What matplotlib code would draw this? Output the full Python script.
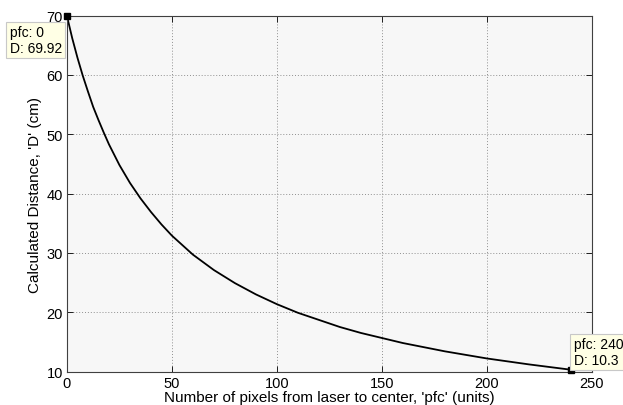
import numpy as np
import matplotlib
matplotlib.use('Agg')
import matplotlib.pyplot as plt

# values
pfc = [0, 2.5, 5, 7.5, 10, 12.5, 15, 17.5, 20, 25, 30, 35, 40, 45, 50, 55,
       60, 70, 80, 90, 100, 110, 120, 130, 140, 150, 160, 170, 180, 190,
       200, 210, 220, 230, 240]
dist = [69.92, 66.2, 62.9, 59.9, 57.2, 54.6, 52.4, 50.3, 48.3, 44.8, 41.8,
        39.2, 36.9, 34.8, 32.9, 31.3, 29.7, 27.1, 24.9, 23.0, 21.35, 19.9,
        18.7, 17.5, 16.5, 15.65, 14.8, 14.1, 13.4, 12.8, 12.2, 11.7, 11.2,
        10.75, 10.3]

x_ticks = [0, 50, 100, 150, 200, 250]
y_ticks = [10, 20, 30, 40, 50, 60, 70]

plt.rcParams['font.family'] = ['Liberation Sans', 'DejaVu Sans']

fig = plt.figure(figsize=(6.23, 4.06), dpi=100)
ax = fig.add_axes([0.1075, 0.0825, 0.8425, 0.8765])
ax.set_facecolor('#f7f7f7')

ax.plot(pfc, dist, color='black', linewidth=1.3)

ax.set_xlim(0, 250)
ax.set_ylim(10, 70)
ax.set_xticks(x_ticks)
ax.set_yticks(y_ticks)
ax.tick_params(direction='in', top=True, right=True, labelsize=10.5,
               length=4, width=0.6, pad=3)
for s in ax.spines.values():
    s.set_linewidth(0.8)
    s.set_color('#404040')
ax.grid(True, linestyle=(0, (1, 2)), color='#909090', linewidth=0.7)

ax.set_xlabel("Number of pixels from laser to center, 'pfc' (units)",
              fontsize=11, labelpad=0)
ax.set_ylabel("Calculated Distance, 'D' (cm)", fontsize=11, labelpad=3)

# data tips at both ends
tip_box = dict(boxstyle='square,pad=0.25', fc='#ffffe5', ec='#c8c8c8', lw=0.8)
ends = [(0, -5, -9, 'right', 'top'), (-1, 3, 3, 'left', 'bottom')]
for idx, dx, dy, ha, va in ends:
    xp, yp = pfc[idx], dist[idx]
    ax.plot(xp, yp, marker='s', color='black', markersize=4, clip_on=False,
            zorder=5)
    ax.annotate('pfc: %g\nD: %g' % (xp, yp), xy=(xp, yp),
                xytext=(dx, dy), textcoords='offset pixels',
                ha=ha, va=va, multialignment='left', fontsize=10,
                linespacing=1.15, bbox=tip_box, annotation_clip=False,
                zorder=6)

fig.savefig('out.png', dpi=100)
